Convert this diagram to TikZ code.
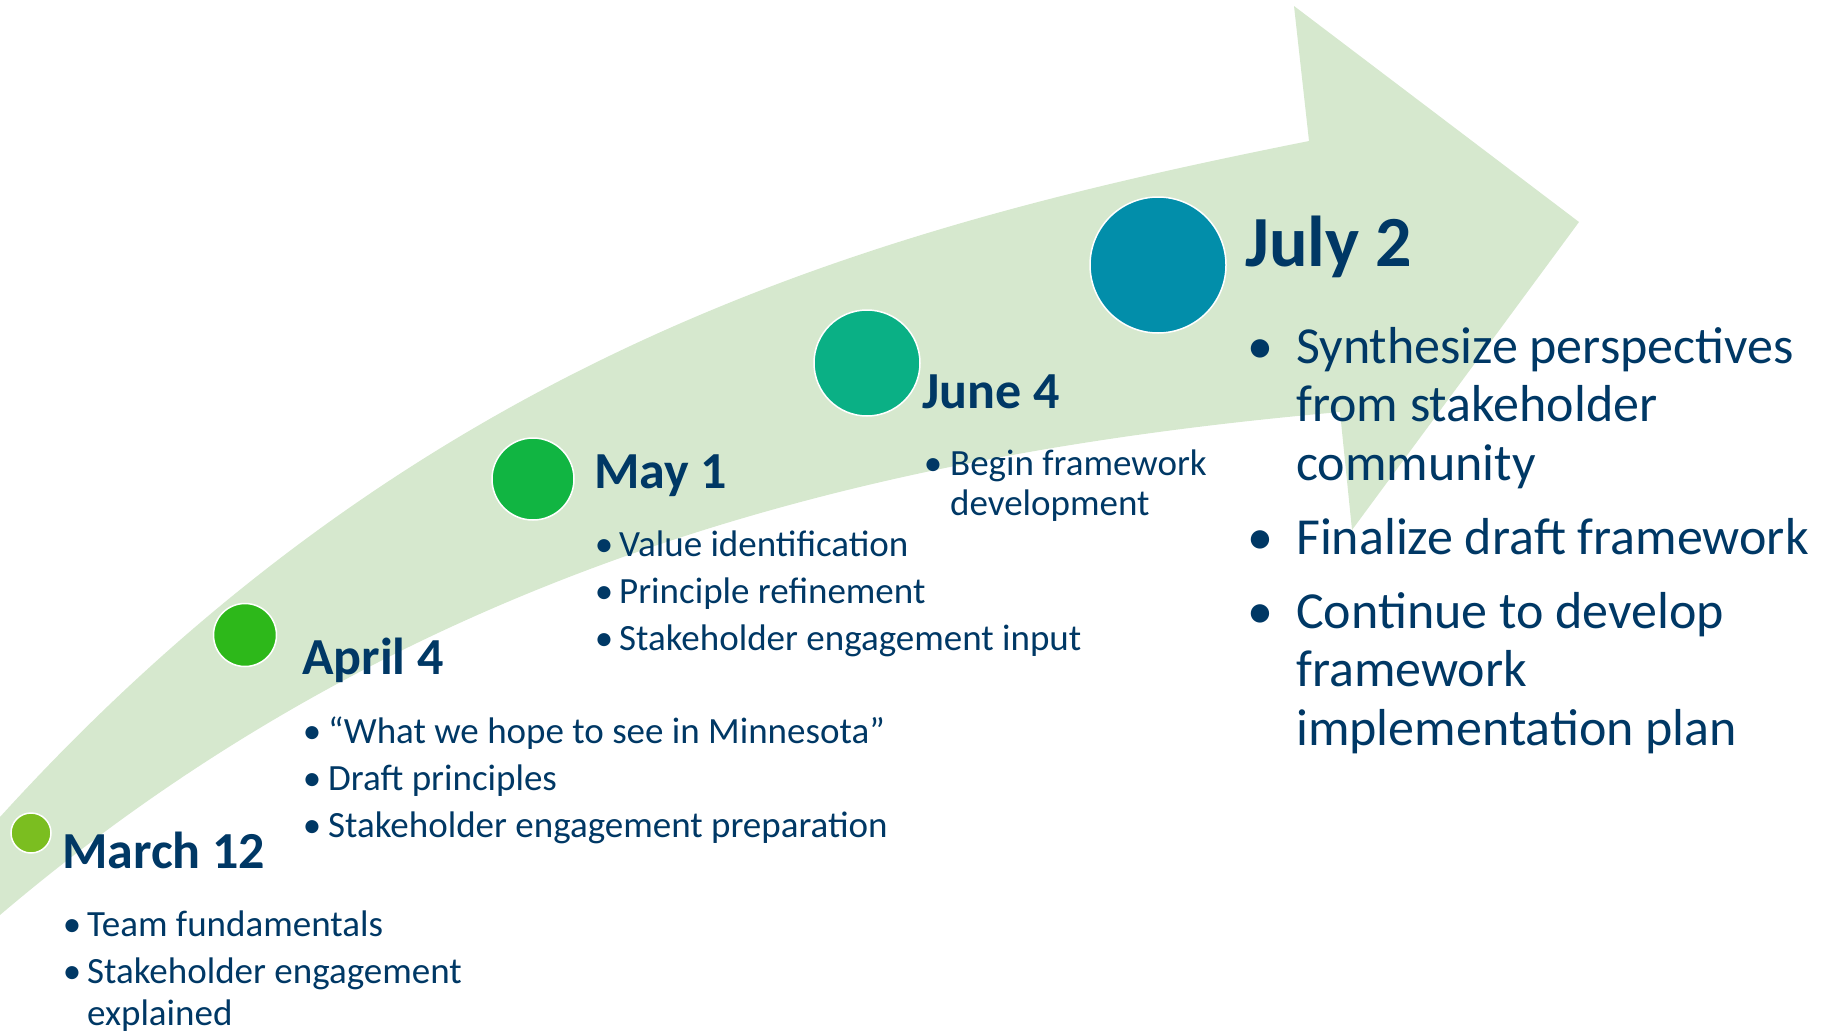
\documentclass[tikz,border=0pt]{standalone}
\usepackage{fontspec}
\setmainfont{Carlito}
\usetikzlibrary{positioning}

\definecolor{band}{RGB}{214,232,206}
\definecolor{navy}{RGB}{0,56,101}
\definecolor{marc}{RGB}{123,190,32}
\definecolor{aprc}{RGB}{45,184,26}
\definecolor{mayc}{RGB}{17,181,66}
\definecolor{junc}{RGB}{10,176,133}
\definecolor{julc}{RGB}{2,142,170}

\newcommand{\bul}[1]{\makebox[0pt][c]{\textbullet}\hspace*{#1}}

\begin{document}
\begin{tikzpicture}[x=1pt,y=-1pt]
  \tikzstyle{every node}=[inner sep=0pt,text=navy]
  \tikzstyle{milestone}=[circle,draw=white,line width=1.5pt]
  \tikzstyle{date}=[anchor=base west,font=\bfseries\fontsize{52}{62}\selectfont]
  \tikzstyle{bigdate}=[anchor=base west,font=\bfseries\fontsize{72}{86}\selectfont]
  \tikzstyle{items}=[anchor=base west,align=left,font=\fontsize{37}{42}\selectfont]
  \tikzstyle{bigitems}=[anchor=base west,align=left,font=\fontsize{52}{58.5}\selectfont]

  \useasboundingbox (0,0) rectangle (1831,1031);

  \fill[band] (0,817) .. controls (430,344) and (889,225) .. (1309,141)
    -- (1294,6) -- (1579,222) -- (1352,530) -- (1340,412)
    .. controls (890,452) and (420,558) .. (0,915) -- cycle;

  \node (mar) [milestone,fill=marc,minimum size=40pt] at (31,833) {};
  \node (apr) [milestone,fill=aprc,minimum size=63pt] at (245,635) {};
  \node (may) [milestone,fill=mayc,minimum size=82pt] at (533,479) {};
  \node (jun) [milestone,fill=junc,minimum size=106pt] at (867,363) {};
  \node (jul) [milestone,fill=julc,minimum size=136pt] at (1158,265) {};

  % lists are anchored at the baseline of their last line
  \node (mard) [date] at (62,868) {March 12};
  \node (marl) [items] at (72,1025) {\bul{15pt}Team fundamentals\\[5pt]\bul{15pt}Stakeholder engagement\\\hspace*{15pt}explained};

  \node (aprd) [date] at (302,674) {April 4};
  \node (aprl) [items] at (312,837) {\bul{16pt}“What we hope to see in Minnesota”\\[5pt]\bul{16pt}Draft principles\\[5pt]\bul{16pt}Stakeholder engagement preparation};

  \node (mayd) [date] at (594,488) {May 1};
  \node (mayl) [items] at (604,650) {\bul{15pt}Value identification\\[5pt]\bul{15pt}Principle refinement\\[5pt]\bul{15pt}Stakeholder engagement input};

  \node (jund) [date] at (922,408) {June 4};
  \node (junl) [items,font=\fontsize{37}{40}\selectfont] at (933,515) {\bul{17pt}Begin framework\\\hspace*{17pt}development};

  \node (juld) [bigdate] at (1245,266) {July 2};
  \node (jull) [bigitems] at (1260,745) {\bul{36pt}Synthesize perspectives\\\hspace*{36pt}from stakeholder\\\hspace*{36pt}community\\[15.5pt]\bul{36pt}Finalize draft framework\\[15.5pt]\bul{36pt}Continue to develop\\\hspace*{36pt}framework\\\hspace*{36pt}implementation plan};
\end{tikzpicture}
\end{document}
